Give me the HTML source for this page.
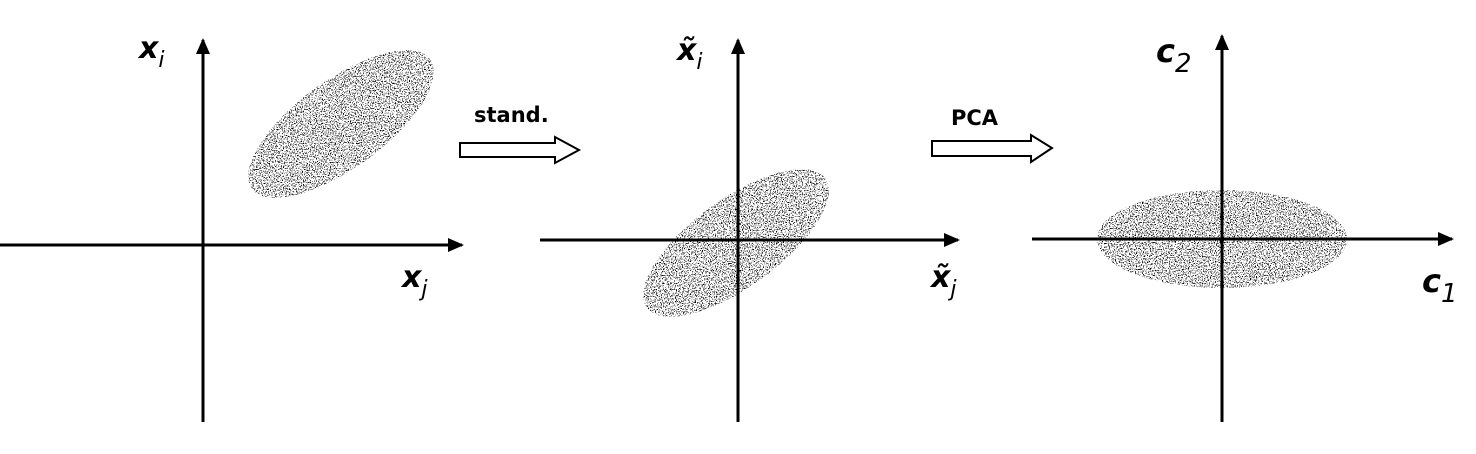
<!DOCTYPE html>
<html><head><meta charset="utf-8"><style>
html,body{margin:0;padding:0;background:#fff;width:1476px;height:454px;overflow:hidden}
svg text{font-family:"DejaVu Sans","Liberation Sans",sans-serif;font-weight:bold;fill:#000}
</style></head><body>
<svg width="1476" height="454" viewBox="0 0 1476 454">
<defs>
<marker id="ah" markerWidth="16" markerHeight="16" refX="14" refY="8" orient="auto" markerUnits="userSpaceOnUse" viewBox="0 0 16 16">
<path d="M0,1 L16,8 L0,15 z" fill="#000"/></marker>
<filter id="stip" x="0" y="0" width="100%" height="100%">
<feTurbulence type="fractalNoise" baseFrequency="0.85" numOctaves="2" seed="3" result="n"/>
<feColorMatrix in="n" type="matrix" values="0 0 0 0 0  0 0 0 0 0  0 0 0 0 0  0 0 0 -20 8.6" result="a"/>
<feComposite in="a" in2="SourceGraphic" operator="in"/>
</filter>
</defs>
<g>
<g filter="url(#stip)"><ellipse cx="341" cy="124" rx="110" ry="44" transform="rotate(-36 341 124)" fill="#000"/></g>
<line x1="0" y1="245" x2="462" y2="245" stroke="#000" stroke-width="3" marker-end="url(#ah)"/>
<line x1="203" y1="422" x2="203" y2="40" stroke="#000" stroke-width="3" marker-end="url(#ah)"/>
<text x="139" y="58" font-size="30" font-style="italic">x<tspan font-size="22" font-weight="normal" dy="9">i</tspan></text>
<text x="402" y="287" font-size="30" font-style="italic">x<tspan font-size="22" font-weight="normal" dy="9">j</tspan></text>
</g>
<g>
<text x="474" y="122" font-size="21">stand.</text>
<path d="M460,143 H555 V137 L579,150 L555,163 V157 H460 Z" fill="#fff" stroke="#000" stroke-width="2"/>
</g>
<g>
<g filter="url(#stip)"><ellipse cx="736" cy="243" rx="110" ry="44" transform="rotate(-36 736 243)" fill="#000"/></g>
<line x1="540" y1="240" x2="958" y2="240" stroke="#000" stroke-width="3" marker-end="url(#ah)"/>
<line x1="738" y1="422" x2="738" y2="40" stroke="#000" stroke-width="3" marker-end="url(#ah)"/>
<text x="677" y="60" font-size="30" font-style="italic">x̃<tspan font-size="22" font-weight="normal" dy="9">i</tspan></text>
<text x="931" y="287" font-size="30" font-style="italic">x̃<tspan font-size="22" font-weight="normal" dy="9">j</tspan></text>
</g>
<g>
<text x="951" y="125" font-size="21">PCA</text>
<path d="M932,141 H1031 V135 L1052,148 L1031,162 V156 H932 Z" fill="#fff" stroke="#000" stroke-width="2"/>
</g>
<g>
<g filter="url(#stip)"><ellipse cx="1222" cy="239" rx="125" ry="49" fill="#000"/></g>
<line x1="1032" y1="239" x2="1452" y2="239" stroke="#000" stroke-width="3" marker-end="url(#ah)"/>
<line x1="1222" y1="422" x2="1222" y2="36" stroke="#000" stroke-width="3" marker-end="url(#ah)"/>
<text x="1156" y="62" font-size="32" font-style="italic">c<tspan font-size="26" font-weight="normal" dy="10">2</tspan></text>
<text x="1422" y="292" font-size="32" font-style="italic">c<tspan font-size="26" font-weight="normal" dy="10">1</tspan></text>
</g>
</svg>
</body></html>
